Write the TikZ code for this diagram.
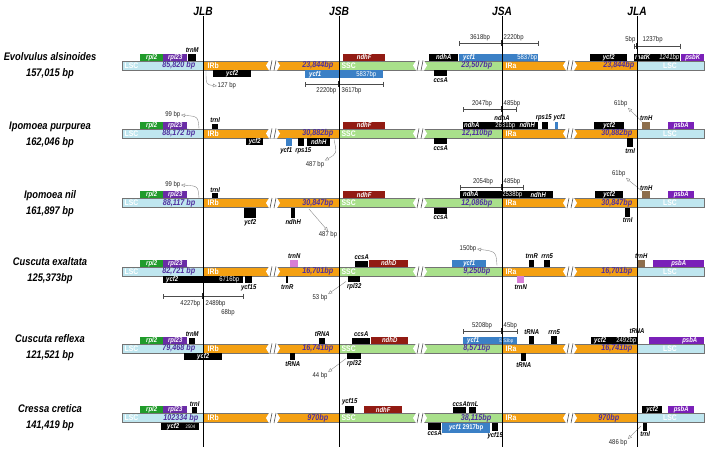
\documentclass[tikz,border=0pt]{standalone}
\usepackage{fontspec}
\setmainfont{Liberation Sans}[FakeStretch=0.85]
\usetikzlibrary{positioning, arrows.meta}

\definecolor{lscblue}{HTML}{BFE6EF}
\definecolor{irorange}{HTML}{F4A012}
\definecolor{sscgreen}{HTML}{A9E08B}
\definecolor{rplgreen}{HTML}{209B2A}
\definecolor{rplpurple}{HTML}{6A2CA6}
\definecolor{psbpurple}{HTML}{7A20B8}
\definecolor{ndhred}{HTML}{921B13}
\definecolor{ycfblue}{HTML}{3B80C6}
\definecolor{trnbrown}{HTML}{8E6E4C}
\definecolor{trnpink}{HTML}{D87ED6}
\definecolor{lenpurple}{HTML}{4F2F9F}

\newcommand{\genefont}{\fontsize{7}{7}\selectfont\bfseries\itshape}
\newcommand{\gbp}{\mdseries\upshape}
\newcommand{\bpfont}{\fontsize{7}{8}\selectfont}
\newcommand{\lenfont}{\fontsize{8.5}{9}\selectfont\bfseries\itshape}
\newcommand{\segfont}{\fontsize{8}{9}\selectfont\bfseries}
\newcommand{\spcfont}{\fontsize{11}{16}\selectfont\bfseries\itshape}
\newcommand{\juncfont}{\fontsize{12}{12}\selectfont\bfseries\itshape}
\newcommand{\tinybp}{\fontsize{5}{5}\selectfont\mdseries\upshape}

\begin{document}
\begin{tikzpicture}[x=1pt, y=-1pt,
  gup/.style={anchor=south west, inner xsep=1pt, inner ysep=0pt,
    minimum height=7pt, text=white, font=\genefont},
  gdn/.style={gup, anchor=north west},
  glbl/.style={font=\genefont, text=black, inner sep=0.5pt},
  bplbl/.style={font=\bpfont, text=black!85, inner sep=0.5pt},
  len/.style={font=\lenfont, text=lenpurple, inner sep=0.5pt, anchor=east},
  seg/.style={font=\segfont, text=white, inner sep=0.5pt, anchor=west},
  spc/.style={font=\spcfont, align=center, inner sep=0pt},
  junc/.style={font=\juncfont, inner sep=1pt},
  jline/.style={line width=0.9pt, black},
  bparr/.style={draw=black!45, line width=0.4pt, -{Triangle[open, length=4pt, width=3.5pt]}},
  scl/.style={draw=black!70, line width=0.5pt, arrows={Bar[width=5pt]-Bar[width=5pt]}},
  mtick/.style={line width=1.6pt, black!85},
]
\fill[white] (0,0) rectangle (708,450);
\useasboundingbox (0,0) rectangle (708,450);

% ===== Genome bars =====
\foreach \ry/\rn in {65.5/A,133.5/B,203/C,271.5/D,348.5/E,418/F}{
  \fill[lscblue] (122,\ry-4.5) rectangle (203,\ry+4.5);
  \fill[irorange] (203,\ry-4.5) rectangle (339,\ry+4.5);
  \fill[sscgreen] (339,\ry-4.5) rectangle (502,\ry+4.5);
  \fill[irorange] (502,\ry-4.5) rectangle (637,\ry+4.5);
  \fill[lscblue] (637,\ry-4.5) rectangle (704,\ry+4.5);
  \draw[black!55, line width=0.4pt] (122,\ry-4.5) rectangle (704,\ry+4.5);
  \foreach \bx in {273,420,570}{
    \fill[white] (\bx-7,\ry) -- (\bx-4,\ry-5) -- (\bx+4,\ry-5) -- (\bx+7,\ry)
      -- (\bx+4,\ry+5) -- (\bx-4,\ry+5) -- cycle;
    \draw[black!70, line width=0.6pt] (\bx-3,\ry+5) -- (\bx-1,\ry-5)
      (\bx+1,\ry+5) -- (\bx+3,\ry-5);
  }
  \node[seg] (lscL\rn) at (124,\ry) {LSC};
  \node[seg] (irb\rn) at (207,\ry) {IRb};
  \node[seg] (ssc\rn) at (341,\ry) {SSC};
  \node[seg] (ira\rn) at (505,\ry) {IRa};
  \node[seg, anchor=center] (lscR\rn) at (670,\ry) {LSC};
}

% ===== Row A: Evolvulus alsinoides =====
\begin{scope}[shift={(0,65.5)}]
\node[spc] (spA) at (50,0) {Evolvulus alsinoides\\157,015 bp};
\node[len] (lenA1) at (196,0) {85,820 bp};
\node[len] (lenA2) at (334,0) {23,844bp};
\node[len] (lenA3) at (493,0) {23,507bp};
\node[len] (lenA4) at (635,0) {23,844bp};

\node[gup, fill=rplgreen, minimum width=23pt] (rplA) at (140,-4.5) {rpl2};
\node[gup, fill=rplpurple, minimum width=24pt] (rplzA) at (163,-4.5) {rpl23};
\node[gup, fill=black, minimum width=8pt] (trnMA) at (188,-4.5) {};
\node[glbl, above=0pt of trnMA] (trnMAl) {trnM};
\node[gdn, fill=black, minimum width=38pt] (ycf2A) at (213,4.5) {ycf2};
\node[bplbl, anchor=west] (bA1) at (217,20.5) {127 bp};
\coordinate (jA1) at (206,5);
\draw[bparr] (jA1) .. controls (206,19) .. (bA1.west);

\node[gup, fill=ndhred, minimum width=42pt] (ndhFA) at (343,-4.5) {ndhF};
\node[gdn, fill=ycfblue, text width=76pt, minimum height=8pt] (ycf1A) at (305,4.5) {\hspace*{3pt}ycf1\hfill{\gbp 5837bp}\hspace*{6pt}};
\coordinate (sA1) at (305,18.5);
\coordinate (sA2) at (383,18.5);
\draw[scl] (sA1) -- (sA2);
\draw[mtick] (339,15.5) -- (339,21.5);
\node[bplbl, anchor=east] (bA2) at (337,25.5) {2220bp};
\node[bplbl, anchor=west] (bA3) at (341,25.5) {3617bp};

\node[gup, fill=black, minimum width=29pt] (ndhAA) at (429,-4.5) {ndhA};
\node[gup, fill=ycfblue, text width=77pt] (ycf1A2) at (459,-4.5) {\hspace*{3pt}ycf1\hfill{\gbp 5837bp}};
\coordinate (sA3) at (459,-22.5);
\coordinate (sA4) at (538,-22.5);
\draw[scl] (sA3) -- (sA4);
\draw[mtick] (502,-25.5) -- (502,-19.5);
\node[bplbl, anchor=south] (bA4) at (480,-24) {3618bp};
\node[bplbl, anchor=south west] (bA5) at (503,-24) {2220bp};
\node[gdn, fill=black, minimum width=13pt, minimum height=6pt] (ccsAA) at (434,4.5) {};
\node[glbl, below=0.5pt of ccsAA] (ccsAAl) {ccsA};

\node[gup, fill=black, minimum width=37pt] (ycf2A2) at (590,-4.5) {ycf2};
\node[gup, fill=black, text width=44pt] (matKA) at (634,-4.5) {matK\hfill{\mdseries 1241bp}};
\node[gup, fill=psbpurple, minimum width=23pt] (psbKA) at (681,-4.5) {psbK};
\coordinate (sA5) at (634,-19.5);
\coordinate (sA6) at (680,-19.5);
\draw[scl] (sA5) -- (sA6);
\draw[mtick] (637,-22.5) -- (637,-16.5);
\node[bplbl, anchor=south east] (bA6) at (636,-21.5) {5bp};
\node[bplbl, anchor=south west] (bA7) at (642,-21.5) {1237bp};
\end{scope}

% ===== Row B: Ipomoea purpurea =====
\begin{scope}[shift={(0,133.5)}]
\node[spc] (spB) at (50,1) {Ipomoea purpurea\\162,046 bp};
\node[len] (lenB1) at (196,0) {88,172 bp};
\node[len] (lenB2) at (334,0) {30,882bp};
\node[len] (lenB3) at (493,0) {12,110bp};
\node[len] (lenB4) at (633,0) {30,882bp};

\node[gup, fill=rplgreen, minimum width=23pt] (rplB) at (140,-4.5) {rpl2};
\node[gup, fill=rplpurple, minimum width=24pt] (rplzB) at (163,-4.5) {rpl23};
\node[bplbl, anchor=east] (bB1) at (181,-18.5) {99 bp};
\coordinate (jB1) at (199,-5);
\draw[bparr] (jB1) .. controls (198,-17) .. (bB1.east);
\node[gup, fill=black, minimum width=6pt, minimum height=5pt] (trnIB) at (212,-4.5) {};
\node[glbl, above=0pt of trnIB] (trnIBl) {trnI};
\node[gdn, fill=black, minimum width=17pt] (ycf2B) at (246,4.5) {ycf2};
\node[gdn, fill=ycfblue, minimum width=6pt, minimum height=8pt] (ycf1B) at (286,4.5) {};
\node[glbl, below=0.5pt of ycf1B, xshift=-3pt] (ycf1Bl) {ycf1};
\node[gdn, fill=black, minimum width=6pt, minimum height=8pt] (rps15B) at (298,4.5) {};
\node[glbl, below=0.5pt of rps15B, xshift=2pt] (rps15Bl) {rps15};
\node[gdn, fill=black, minimum width=23pt, minimum height=8pt] (ndhHB) at (307,4.5) {ndhH};
\node[bplbl, anchor=north] (bB2) at (315,27) {487 bp};
\coordinate (jB2) at (334,6);
\draw[bparr] (jB2) .. controls (337,20) .. (bB2.north east);

\node[gup, fill=ndhred, minimum width=42pt] (ndhFB) at (343,-4.5) {ndhF};
\coordinate (sB1) at (463,-24.5);
\coordinate (sB2) at (516,-24.5);
\draw[scl] (sB1) -- (sB2);
\draw[mtick] (502,-27.5) -- (502,-21.5);
\node[bplbl, anchor=south] (bB3) at (482,-26) {2047bp};
\node[bplbl, anchor=south west] (bB4) at (503,-26) {485bp};
\node[gup, fill=black, text width=51pt] (ndhAB) at (463,-4.5) {ndhA\hfill{\gbp 2631bp}};
\node[gup, fill=black, minimum width=22pt] (ndhHB2) at (516,-4.5) {ndhH};
\node[glbl] (ndhABl) at (502,-15.5) {ndhA};
\node[gup, fill=black, minimum width=6pt] (rps15B2) at (542,-4.5) {};
\node[glbl, above=0pt of rps15B2, xshift=-1.5pt] (rps15B2l) {rps15};
\node[gup, fill=ycfblue, minimum width=2.5pt] (ycf1B2) at (555,-4.5) {};
\node[glbl, above=0pt of ycf1B2, xshift=3pt] (ycf1B2l) {ycf1};
\node[gdn, fill=black, minimum width=13pt, minimum height=6pt] (ccsAB) at (434,4.5) {};
\node[glbl, below=0.5pt of ccsAB] (ccsABl) {ccsA};

\node[gup, fill=black, minimum width=30pt] (ycf2B2) at (594,-4.5) {ycf2};
\node[gdn, fill=black, minimum width=6pt, minimum height=9pt] (trnIB2) at (627,4.5) {};
\node[glbl, below=0.5pt of trnIB2] (trnIB2l) {trnI};
\node[gup, fill=trnbrown, minimum width=8pt] (trnHB) at (642,-4.5) {};
\node[glbl, above=0pt of trnHB] (trnHBl) {trnH};
\node[bplbl, anchor=east] (bB5) at (628,-29.5) {61bp};
\draw[bparr] (trnHB.north west) -- (bB5.south east);
\node[gup, fill=psbpurple, minimum width=26pt] (psbAB) at (668,-4.5) {psbA};
\end{scope}

% ===== Row C: Ipomoea nil =====
\begin{scope}[shift={(0,203)}]
\node[spc] (spC) at (50,0.5) {Ipomoea nil\\161,897 bp};
\node[len] (lenC1) at (196,0) {88,117 bp};
\node[len] (lenC2) at (334,0) {30,847bp};
\node[len] (lenC3) at (493,0) {12,086bp};
\node[len] (lenC4) at (633,0) {30,847bp};

\node[gup, fill=rplgreen, minimum width=23pt] (rplC) at (140,-4.5) {rpl2};
\node[gup, fill=rplpurple, minimum width=24pt] (rplzC) at (163,-4.5) {rpl23};
\node[bplbl, anchor=east] (bC1) at (181,-18) {99 bp};
\coordinate (jC1) at (199,-5);
\draw[bparr] (jC1) .. controls (198,-17) .. (bC1.east);
\node[gup, fill=black, minimum width=6pt, minimum height=5pt] (trnIC) at (212,-4.5) {};
\node[glbl, above=0pt of trnIC] (trnICl) {trnI};
\node[gdn, fill=black, minimum width=12pt, minimum height=10pt] (ycf2C) at (244,4.5) {};
\node[glbl, below=0.5pt of ycf2C] (ycf2Cl) {ycf2};
\node[gdn, fill=black, minimum width=4pt, minimum height=10pt] (ndhHC) at (291,4.5) {};
\node[glbl, below=0.5pt of ndhHC] (ndhHCl) {ndhH};
\node[bplbl] (bC2) at (328,32) {487 bp};
\coordinate (jC2) at (309,6);
\draw[bparr] (jC2) -- (bC2.north);

\node[gup, fill=ndhred, minimum width=42pt] (ndhFC) at (343,-4.5) {ndhF};
\coordinate (sC1) at (460,-16);
\coordinate (sC2) at (523,-16);
\draw[scl] (sC1) -- (sC2);
\draw[mtick] (502,-19) -- (502,-13);
\node[bplbl, anchor=south] (bC3) at (483,-17.5) {2054bp};
\node[bplbl, anchor=south west] (bC4) at (503,-17.5) {485bp};
\node[gup, fill=black, text width=61pt] (ndhAC) at (460,-4.5) {\hspace*{2pt}ndhA\hfill{\gbp 2538bp}};
\node[gup, fill=black, minimum width=30pt] (ndhHC2) at (523,-4.5) {ndhH};
\node[gdn, fill=black, minimum width=13pt, minimum height=6pt] (ccsAC) at (434,4.5) {};
\node[glbl, below=0.5pt of ccsAC] (ccsACl) {ccsA};

\node[gup, fill=black, minimum width=28pt] (ycf2C2) at (595,-4.5) {ycf2};
\node[gdn, fill=black, minimum width=5pt, minimum height=9pt] (trnIC2) at (625,4.5) {};
\node[glbl, below=0.5pt of trnIC2] (trnIC2l) {trnI};
\node[gup, fill=trnbrown, minimum width=8pt] (trnHC) at (642,-4.5) {};
\node[glbl, above=0pt of trnHC] (trnHCl) {trnH};
\node[bplbl, anchor=east] (bC5) at (626,-29) {61bp};
\draw[bparr] (trnHC.north west) -- (bC5.south east);
\node[gup, fill=psbpurple, minimum width=26pt] (psbAC) at (668,-4.5) {psbA};
\end{scope}

% ===== Row D: Cuscuta exaltata =====
\begin{scope}[shift={(0,271.5)}]
\node[spc] (spD) at (50,-1) {Cuscuta exaltata\\125,373bp};
\node[len] (lenD1) at (196,0) {82,721 bp};
\node[len] (lenD2) at (334,0) {16,701bp};
\node[len] (lenD3) at (491,0) {9,250bp};
\node[len] (lenD4) at (633,0) {16,701bp};

\node[gup, fill=rplgreen, minimum width=23pt] (rplD) at (140,-4.5) {rpl2};
\node[gup, fill=rplpurple, minimum width=24pt] (rplzD) at (163,-4.5) {rpl23};
\node[gdn, fill=black, text width=78pt] (ycf2D) at (163,4.5) {\hspace*{2pt}ycf2\hfill{\gbp 6716bp}\hspace*{3pt}};
\node[gdn, fill=black, minimum width=7pt] (ycf15D) at (245,4.5) {};
\node[glbl, below=0.5pt of ycf15D] (ycf15Dl) {ycf15};
\coordinate (sD1) at (163,24.5);
\coordinate (sD2) at (243,24.5);
\draw[scl] (sD1) -- (sD2);
\draw[mtick] (203,21.5) -- (203,27.5);
\node[bplbl, anchor=north east] (bD1) at (201,28.5) {4227bp};
\node[bplbl, anchor=north west] (bD2) at (205,28.5) {2489bp};
\node[bplbl] (bD3) at (228,41.5) {68bp};
\node[gup, fill=trnpink, minimum width=8pt] (trnND) at (290,-4.5) {};
\node[glbl, above=0pt of trnND] (trnNDl) {trnN};
\node[gdn, fill=black, minimum width=2pt] (trnRD) at (286,4.5) {};
\node[glbl, below=0.5pt of trnRD] (trnRDl) {trnR};
\node[bplbl] (bD4) at (320,26.5) {53 bp};
\coordinate (jD1) at (346,10);
\draw[bparr] (jD1) -- (bD4.north east);

\node[gup, fill=black, minimum width=13pt, minimum height=6pt] (ccsAD) at (355,-4.5) {};
\node[glbl, above=0pt of ccsAD] (ccsADl) {ccsA};
\node[gup, fill=ndhred, minimum width=39pt] (ndhDD) at (369,-4.5) {ndhD};
\node[gdn, fill=black, minimum width=12pt, minimum height=6pt] (rpl32D) at (348,4.5) {};
\node[glbl, below=0.5pt of rpl32D] (rpl32Dl) {rpl32};
\node[gup, fill=ycfblue, minimum width=34pt] (ycf1D) at (452,-4.5) {ycf1};
\node[bplbl] (bD5) at (468,-22.5) {150bp};
\coordinate (jD2) at (497,-6);
\draw[bparr] (jD2) .. controls (496,-20) .. (bD5.east);

\node[gdn, fill=trnpink, minimum width=7pt] (trnND2) at (517,4.5) {};
\node[glbl, below=0.5pt of trnND2] (trnND2l) {trnN};
\node[gup, fill=black, minimum width=5pt] (trnRD2) at (529,-4.5) {};
\node[glbl, above=0pt of trnRD2] (trnRD2l) {trnR};
\node[gup, fill=black, minimum width=6pt] (rrn5D) at (544,-4.5) {};
\node[glbl, above=0pt of rrn5D] (rrn5Dl) {rrn5};
\node[gup, fill=trnbrown, minimum width=8pt] (trnHD) at (637,-4.5) {};
\node[glbl, above=0pt of trnHD] (trnHDl) {trnH};
\node[gup, fill=psbpurple, minimum width=51pt] (psbAD) at (653,-4.5) {psbA};
\end{scope}

% ===== Row E: Cuscuta reflexa =====
\begin{scope}[shift={(0,348.5)}]
\node[spc] (spE) at (50,-1) {Cuscuta reflexa\\121,521 bp};
\node[len] (lenE1) at (196,0) {79,468 bp};
\node[len] (lenE2) at (334,0) {16,741bp};
\node[len] (lenE3) at (491,0) {8,571bp};
\node[len] (lenE4) at (633,0) {16,741bp};

\node[gup, fill=rplgreen, minimum width=23pt] (rplE) at (140,-4.5) {rpl2};
\node[gup, fill=rplpurple, minimum width=24pt] (rplzE) at (163,-4.5) {rpl23};
\node[gup, fill=black, minimum width=6pt, minimum height=6pt] (trnME) at (189,-4.5) {};
\node[glbl, above=0pt of trnME] (trnMEl) {trnM};
\node[gdn, fill=black, minimum width=38pt] (ycf2E) at (184,4.5) {ycf2};
\node[gup, fill=black, minimum width=6pt, minimum height=6pt] (tRNAE1) at (319,-4.5) {};
\node[glbl, above=0pt of tRNAE1] (tRNAE1l) {tRNA};
\node[gdn, fill=black, minimum width=5pt] (tRNAE2) at (290,4.5) {};
\node[glbl, below=0.5pt of tRNAE2] (tRNAE2l) {tRNA};

\node[gup, fill=black, minimum width=18pt, minimum height=6pt] (ccsAE) at (352,-4.5) {};
\node[glbl, above=0pt of ccsAE] (ccsAEl) {ccsA};
\node[gup, fill=ndhred, minimum width=37pt] (ndhDE) at (371,-4.5) {ndhD};
\node[gdn, fill=black, minimum width=14pt, minimum height=6pt] (rpl32E) at (347,4.5) {};
\node[glbl, below=0.5pt of rpl32E] (rpl32El) {rpl32};
\node[bplbl] (bE1) at (320,27.5) {44 bp};
\coordinate (jE1) at (346,10);
\draw[bparr] (jE1) -- (bE1.north east);

\coordinate (sE1) at (463,-17.5);
\coordinate (sE2) at (517,-17.5);
\draw[scl] (sE1) -- (sE2);
\draw[mtick] (502,-20.5) -- (502,-14.5);
\node[bplbl, anchor=south] (bE2) at (482,-19) {5208bp};
\node[bplbl, anchor=south west] (bE3) at (503,-19) {45bp};
\node[gup, fill=ycfblue, text width=52pt] (ycf1E) at (463,-4.5) {\hspace*{3pt}ycf1\hfill{\tinybp 5253bp}\hspace*{3pt}};
\node[gup, fill=black, minimum width=5pt, minimum height=8pt] (tRNAE3) at (529,-4.5) {};
\node[glbl, above=0pt of tRNAE3] (tRNAE3l) {tRNA};
\node[gup, fill=black, minimum width=6pt, minimum height=8pt] (rrn5E) at (551,-4.5) {};
\node[glbl, above=0pt of rrn5E] (rrn5El) {rrn5};
\node[gdn, fill=black, minimum width=5pt, minimum height=8pt] (tRNAE4) at (521,4.5) {};
\node[glbl, below=0.5pt of tRNAE4] (tRNAE4l) {tRNA};

\node[gup, fill=black, text width=44pt] (ycf2E2) at (591,-4.5) {\hspace*{2pt}ycf2\hfill{\gbp 2492bp}};
\node[glbl] (tRNAE5l) at (637,-17.5) {tRNA};
\node[gup, fill=psbpurple, text width=53pt] (psbAE) at (649,-4.5) {\hfill psbA\hspace*{6pt}};
\end{scope}

% ===== Row F: Cressa cretica =====
\begin{scope}[shift={(0,418)}]
\node[spc] (spF) at (50,0) {Cressa cretica\\141,419 bp};
\node[len] (lenF1) at (199,0) {102334 bp};
\node[len] (lenF2) at (329,0) {970bp};
\node[len] (lenF3) at (492,0) {38,115bp};
\node[len] (lenF4) at (620,0) {970bp};

\node[gup, fill=rplgreen, minimum width=23pt] (rplF) at (140,-4.5) {rpl2};
\node[gup, fill=rplpurple, minimum width=24pt] (rplzF) at (163,-4.5) {rpl23};
\node[gup, fill=black, minimum width=5pt, minimum height=6pt] (trnIF) at (192,-4.5) {};
\node[glbl, above=0pt of trnIF] (trnIFl) {trnI};
\node[gdn, fill=black, text width=36pt] (ycf2F) at (161,4.5) {\hspace*{5pt}ycf2\hfill{\tinybp 2504}\hspace*{3pt}};

\node[gup, fill=black, minimum width=9pt] (ycf15F) at (345,-4.5) {};
\node[glbl, above=0pt of ycf15F] (ycf15Fl) {ycf15};
\node[gup, fill=ndhred, minimum width=38pt] (ndhFF) at (364,-4.5) {ndhF};
\node[gup, fill=black, minimum width=13pt, minimum height=6pt] (ccsAF) at (453,-4.5) {};
\node[glbl, above=0pt of ccsAF] (ccsAFl) {ccsA};
\node[gup, fill=black, minimum width=7pt, minimum height=6pt] (trnLF) at (469,-4.5) {};
\node[glbl, above=0pt of trnLF] (trnLFl) {trnL};
\node[gdn, fill=black, minimum width=13pt] (ccsAF2) at (428,4.5) {};
\node[glbl, below=0.5pt of ccsAF2] (ccsAF2l) {ccsA};
\node[gdn, fill=ycfblue, minimum width=48pt, minimum height=10pt] (ycf1F) at (442,4.5) {ycf1 {\upshape 2917bp}};
\node[gdn, fill=black, minimum width=6pt, minimum height=8pt] (ycf15F2) at (492,4.5) {};
\node[glbl, below=0.5pt of ycf15F2] (ycf15F2l) {ycf15};

\node[gup, fill=black, minimum width=20pt] (ycf2F2) at (642,-4.5) {ycf2};
\node[gup, fill=psbpurple, minimum width=26pt] (psbAF) at (668,-4.5) {psbA};
\node[gdn, fill=black, minimum width=4pt, minimum height=8pt] (trnIF2) at (643,4.5) {};
\node[glbl, below=0.5pt of trnIF2] (trnIF2l) {trnI};
\node[bplbl] (bF1) at (618,25) {486 bp};
\coordinate (jF1) at (641,8);
\draw[bparr] (jF1) -- (bF1.north east);
\end{scope}

% ===== Junction lines =====
\node[junc] (hJLB) at (203,11) {JLB};
\node[junc] (hJSB) at (339,11) {JSB};
\node[junc] (hJSA) at (502,11) {JSA};
\node[junc] (hJLA) at (637,11) {JLA};
\coordinate (eJLB) at (203,447);
\coordinate (eJSB) at (339,447);
\coordinate (eJSA) at (502,447);
\coordinate (eJLA) at (637,447);
\draw[jline] (hJLB) -- (eJLB);
\draw[jline] (hJSB) -- (eJSB);
\draw[jline] (hJSA) -- (eJSA);
\draw[jline] (hJLA) -- (eJLA);

\end{tikzpicture}
\end{document}
